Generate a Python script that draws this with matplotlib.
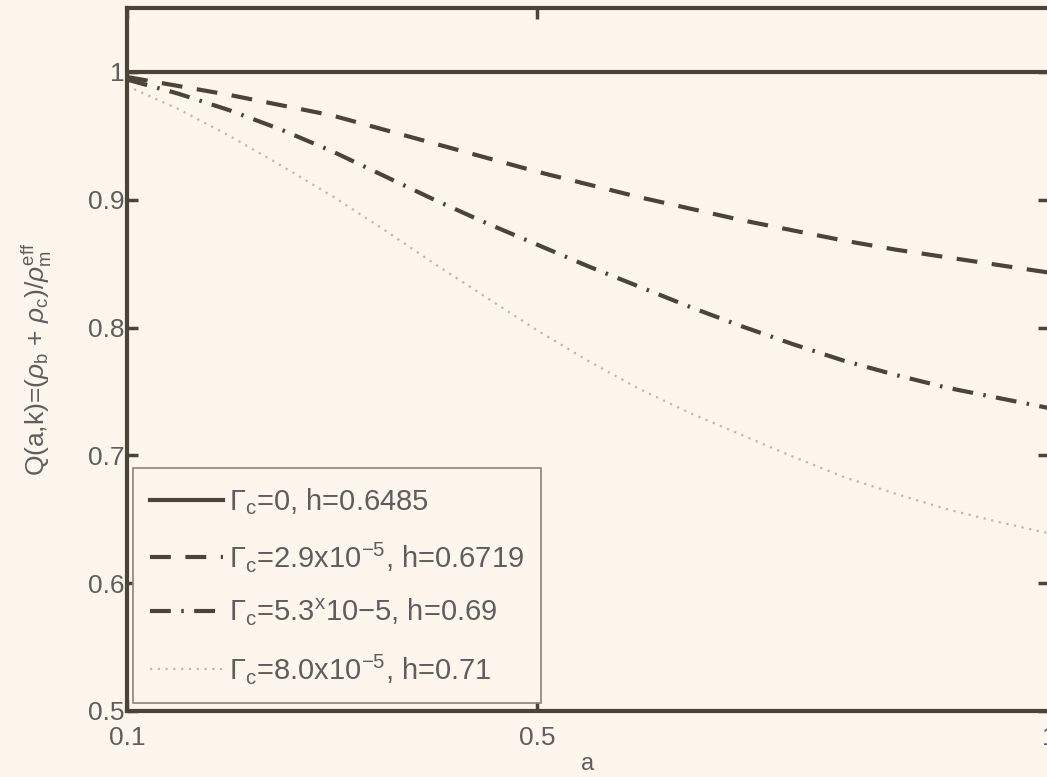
import matplotlib
matplotlib.use("Agg")
import matplotlib.pyplot as plt

# ---- data ----
a_vals = [0.10, 0.15, 0.20, 0.25, 0.30, 0.35, 0.40, 0.45, 0.50, 0.55,
          0.60, 0.65, 0.70, 0.75, 0.80, 0.85, 0.90, 0.95, 1.00]
q_gamma0 = [1.0] * len(a_vals)
q_gamma29 = [0.996, 0.989, 0.982, 0.974, 0.966, 0.955, 0.944, 0.933, 0.922, 0.912,
             0.902, 0.893, 0.884, 0.876, 0.868, 0.861, 0.855, 0.849, 0.843]
q_gamma53 = [0.994, 0.983, 0.970, 0.955, 0.938, 0.919, 0.900, 0.882, 0.865, 0.848,
             0.832, 0.816, 0.801, 0.787, 0.774, 0.763, 0.753, 0.745, 0.737]
q_gamma80 = [0.989, 0.971, 0.950, 0.927, 0.903, 0.877, 0.850, 0.824, 0.798, 0.774,
             0.752, 0.733, 0.716, 0.699, 0.683, 0.670, 0.658, 0.648, 0.639]

labels = [r'$\Gamma_{\rm c}$=0, h=0.6485',
          r'$\Gamma_{\rm c}$=2.9x10$^{-5}$, h=0.6719',
          r'$\Gamma_{\rm c}$=5.3$^{\rm x}$10−5, h=0.69',
          r'$\Gamma_{\rm c}$=8.0x10$^{-5}$, h=0.71']
x_ticks = [0.1, 0.5, 1.0]
x_ticklabels = ['0.1', '0.5', '1']
y_ticks = [0.5, 0.6, 0.7, 0.8, 0.9, 1.0]
y_ticklabels = ['0.5', '0.6', '0.7', '0.8', '0.9', '1']

# ---- style ----
plt.rcParams['font.family'] = ['Liberation Sans', 'DejaVu Sans']
plt.rcParams['mathtext.fontset'] = 'custom'
plt.rcParams['mathtext.rm'] = 'Liberation Sans'
plt.rcParams['mathtext.it'] = 'Liberation Sans:italic'
plt.rcParams['mathtext.bf'] = 'Liberation Sans:bold'

bg = '#fdf6ec'
dark = '#4a4539'
textc = '#5e5e5e'

fig = plt.figure(figsize=(10.47, 7.77), dpi=100, facecolor=bg)
ax = fig.add_axes([127 / 1047, 1 - 711 / 777, 922 / 1047, 703 / 777])
ax.set_facecolor(bg)

ax.plot(a_vals, q_gamma0, color=dark, lw=3.0, ls='-', label=labels[0])
ax.plot(a_vals, q_gamma29, color=dark, lw=3.0, ls=(0, (5, 3.5)), label=labels[1])
ax.plot(a_vals, q_gamma53, color=dark, lw=3.0, ls=(0, (5, 2.5, 0.6, 2.5)), label=labels[2])
ax.plot(a_vals, q_gamma80, color='#bdb8b0', lw=1.6, ls=(0, (1, 2.5)), label=labels[3])

ax.set_xlim(0.1, 1.0)
ax.set_ylim(0.5, 1.05)
ax.set_xticks(x_ticks)
ax.set_xticklabels(x_ticklabels)
ax.set_yticks(y_ticks)
ax.set_yticklabels(y_ticklabels)
ax.tick_params(direction='in', length=8, width=2.5, color=dark,
               labelsize=19, labelcolor=textc, top=True, right=True)
ax.tick_params(axis='x', pad=11)
ax.tick_params(axis='y', pad=2)
for s in ax.spines.values():
    s.set_color(dark)
    s.set_linewidth(3)

ax.set_xlabel('a', fontsize=17, color=textc, labelpad=2)
ax.set_ylabel(r'Q(a,k)=($\rho_{\rm b}$ + $\rho_{\rm c}$)/$\rho_{\rm m}^{\rm eff}$',
              fontsize=19, color=textc, labelpad=24)

leg = ax.legend(loc='lower left', bbox_to_anchor=(0.006, 0.011), borderaxespad=0,
                fontsize=21, frameon=True, fancybox=False, handlelength=2.5,
                handletextpad=0.2, labelspacing=0.8, borderpad=0.6)
for t in leg.get_texts():
    t.set_color(textc)
fr = leg.get_frame()
fr.set_facecolor(bg)
fr.set_edgecolor('#8a8578')
fr.set_linewidth(1.2)
fr.set_alpha(1)

fig.savefig('out.png', dpi=100, facecolor=bg)
